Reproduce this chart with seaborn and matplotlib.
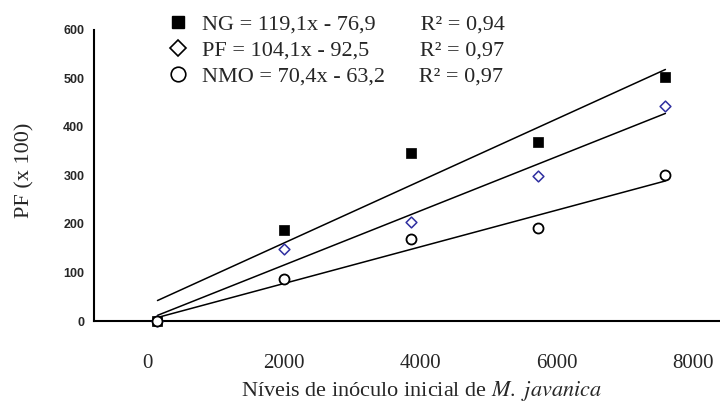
import numpy as np
import pandas as pd
import matplotlib
matplotlib.use("Agg")
import matplotlib.pyplot as plt
from matplotlib.lines import Line2D
import seaborn as sns

# inoculum levels (category index on the axis) and tick labels
levels = [1, 2, 3, 4, 5]
xtick_labels = ["0", "2000", "4000", "6000", "8000"]

# observed PF (x 100) per series
ng = [0, 188, 346, 369, 503]
pf = [0, 148, 204, 299, 443]
nmo = [0, 87, 169, 192, 301]

# fitted regressions: slope, intercept, R2
series = ["NG", "PF", "NMO"]
slopes = [119.1, 104.1, 70.4]
intercepts = [-76.9, -92.5, -63.2]
r2 = ["0,94", "0,97", "0,97"]

sns.set_theme(style="white")
plt.rcParams['font.family'] = ['Liberation Serif', 'DejaVu Serif']
plt.rcParams['mathtext.fontset'] = 'stix'

fig = plt.figure(figsize=(7.2, 4.08), dpi=100)
ax = fig.add_axes([94 / 720, 1 - 321 / 408, 626 / 720, 291 / 408])

df = pd.DataFrame({"nivel": levels, "NG": ng, "PF": pf, "NMO": nmo})

# regression lines
for name, a, b in zip(series, slopes, intercepts):
    fit = pd.DataFrame({"nivel": levels, "y": [a * x + b for x in levels]})
    sns.lineplot(data=fit, x="nivel", y="y", ax=ax, color="black", linewidth=1.1)

sns.scatterplot(data=df, x="nivel", y="NG", ax=ax, marker="s", s=52,
                color="black", edgecolor="black", linewidth=0.5, zorder=3, clip_on=False)
sns.scatterplot(data=df, x="nivel", y="PF", ax=ax, marker="D", s=30,
                facecolor="white", edgecolor="#2f2fa0", linewidth=1.1, zorder=4, clip_on=False)
sns.scatterplot(data=df, x="nivel", y="NMO", ax=ax, marker="o", s=52,
                facecolor="white", edgecolor="black", linewidth=1.3, zorder=5, clip_on=False)

ax.set_xlim(0.5, 5.43)
ax.set_ylim(0, 600)
ax.set_yticks(range(0, 601, 100))
ax.set_yticklabels([str(v) for v in range(0, 601, 100)],
                   family="Liberation Sans", fontweight="bold", fontsize=9)

# labels sit apart from the category tick marks, as in the original
ax.set_xticks(0.917 + 1.075 * np.arange(5))
ax.set_xticklabels(xtick_labels, fontsize=15)
ax.set_xticks([1.5, 2.5, 3.5, 4.5], minor=True)
ax.tick_params(axis="x", which="major", length=0, pad=24)
ax.tick_params(axis="x", which="minor", length=4, width=1.2, direction="out", color="black")
ax.tick_params(axis="y", length=4, width=1.2, direction="out", color="black", pad=3)

for side in ["top", "right"]:
    ax.spines[side].set_visible(False)
for side in ["left", "bottom"]:
    ax.spines[side].set_color("black")
    ax.spines[side].set_linewidth(1.5)

ax.set_xlabel("")
ax.set_ylabel("")
fig.text(422 / 720, 1 - 391 / 408, r"Níveis de inóculo inicial de $\mathit{M.\ javanica}$",
         ha="center", va="center", fontsize=16)
fig.text(25 / 720, 1 - 170 / 408, "PF (x 100)", rotation=90, ha="center", va="center",
         fontsize=16)

handles = [
    Line2D([], [], ls="", marker="s", ms=9, color="black"),
    Line2D([], [], ls="", marker="D", ms=8.5, mfc="white", mec="black", mew=1.2),
    Line2D([], [], ls="", marker="o", ms=10.5, mfc="white", mec="black", mew=1.2),
]
gaps = ["        ", "         ", "      "]
labels = []
for name, a, b, r, g in zip(series, slopes, intercepts, r2, gaps):
    eq = f"{name} = {a:.1f}x - {abs(b):.1f}".replace(".", ",")
    labels.append(f"{eq}{g}R² = {r}")

fig.legend(handles, labels, loc="upper left", bbox_to_anchor=(158 / 720, 1 - 3 / 408),
           frameon=False, fontsize=16, handlelength=0.8, handletextpad=0.7,
           labelspacing=0.25, borderpad=0)

fig.savefig("out.png", dpi=100)
